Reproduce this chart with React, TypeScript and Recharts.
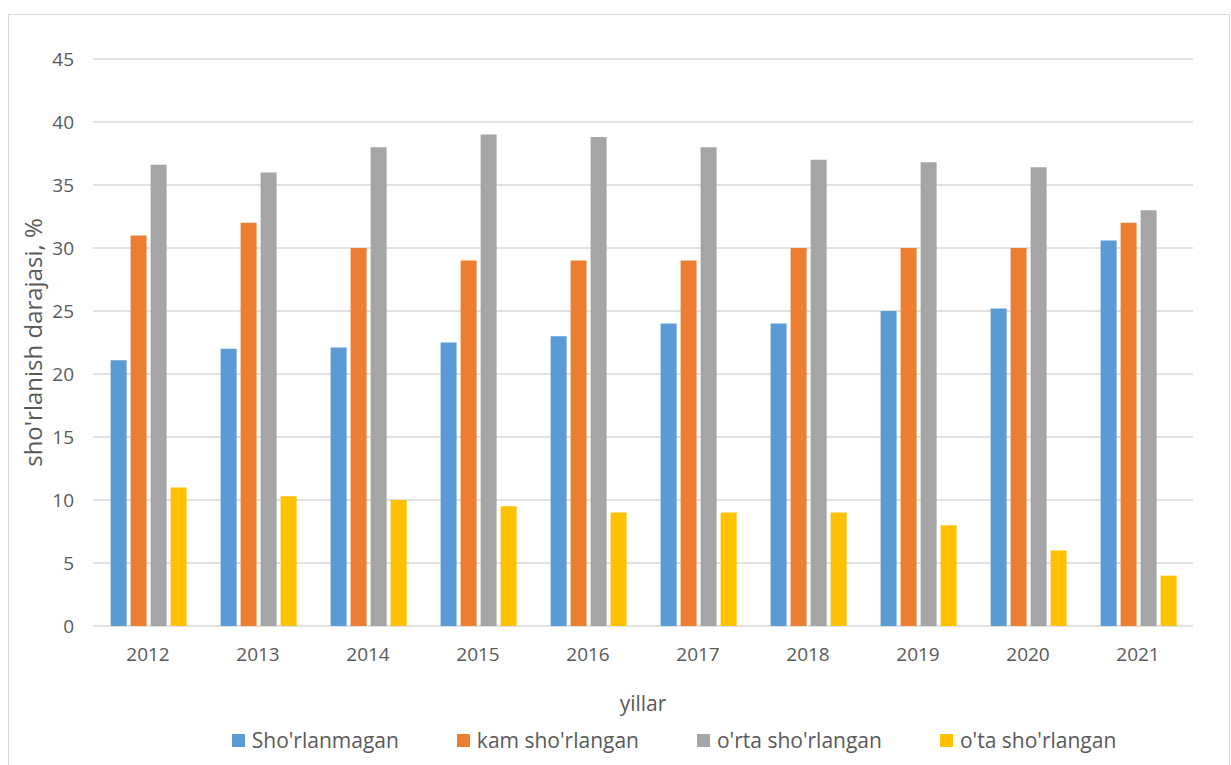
import React from 'react';
import { BarChart, Bar, XAxis, YAxis, CartesianGrid, Legend } from 'recharts';

const years = ['2012', '2013', '2014', '2015', '2016', '2017', '2018', '2019', '2020', '2021'];
const shorlanmagan = [21.1, 22.0, 22.1, 22.5, 23.0, 24.0, 24.0, 25.0, 25.2, 30.6];
const kamShorlangan = [31, 32, 30, 29, 29, 29, 30, 30, 30, 32];
const ortaShorlangan = [36.6, 36.0, 38.0, 39.0, 38.8, 38.0, 37.0, 36.8, 36.4, 33.0];
const otaShorlangan = [11.0, 10.3, 10.0, 9.5, 9.0, 9.0, 9.0, 8.0, 6.0, 4.0];
const yTicks = [0, 5, 10, 15, 20, 25, 30, 35, 40, 45];
const boundaryTicks = [0, 1, 2, 3, 4, 5, 6, 7, 8, 9, 10];

const series = [
  { key: 'a', name: "Sho'rlanmagan", color: '#5B9BD5', values: shorlanmagan },
  { key: 'b', name: "kam sho'rlangan", color: '#ED7D31', values: kamShorlangan },
  { key: 'c', name: "o'rta sho'rlangan", color: '#A5A5A5', values: ortaShorlangan },
  { key: 'd', name: "o'ta sho'rlangan", color: '#FFC000', values: otaShorlangan },
];

const data = years.map((year, i) => {
  const row: Record<string, string | number> = { year };
  series.forEach(s => { row[s.key] = s.values[i]; });
  return row;
});

const FONT = '"Open Sans", "Noto Sans", sans-serif';
const TEXT = '#595959';
const GRID = '#D9D9D9';

const LegendBox = () => (
  <div style={{ display: 'flex', justifyContent: 'center', paddingLeft: 146, fontFamily: FONT, fontSize: 21, color: TEXT }}>
    {series.map((s, i) => (
      <div key={s.key} style={{ display: 'flex', alignItems: 'center', marginLeft: i === 0 ? 0 : 58 }}>
        <span style={{ width: 13, height: 13, background: s.color, display: 'inline-block', marginRight: 7 }} />
        <span>{s.name}</span>
      </div>
    ))}
  </div>
);

export default function App() {
  return (
    <div style={{ position: 'absolute', left: 8, top: 14, width: 1220, height: 760, border: `1px solid ${GRID}`, background: '#fff' }}>
      <BarChart
        width={1220}
        height={750}
        data={data}
        margin={{ top: 44, right: 36, left: 0, bottom: 9 }}
        barGap={4}
        barCategoryGap="16%"
      >
        <CartesianGrid vertical={false} stroke={GRID} strokeWidth={1.5} />
        <XAxis
          xAxisId="grid"
          type="number"
          domain={[0, 10]}
          ticks={boundaryTicks}
          tick={false}
          tickSize={10}
          height={0}
          axisLine={{ stroke: GRID, strokeWidth: 1.5 }}
          tickLine={{ stroke: GRID, strokeWidth: 1.5 }}
        />
        <XAxis
          dataKey="year"
          height={100}
          axisLine={false}
          tickLine={false}
          tickSize={10}
          tickMargin={12}
          tick={{ fill: TEXT, fontSize: 19, fontFamily: FONT }}
          label={{ value: 'yillar', position: 'insideBottom', offset: 15, fill: TEXT, fontSize: 21, fontFamily: FONT }}
        />
        <YAxis
          width={84}
          domain={[0, 45]}
          ticks={yTicks}
          axisLine={false}
          tickLine={false}
          tickMargin={13}
          tick={{ fill: TEXT, fontSize: 19, fontFamily: FONT }}
          label={{ value: "sho'rlanish darajasi, %", angle: -90, position: 'center', dx: -18, fill: TEXT, fontSize: 24, fontFamily: FONT }}
        />
        <Legend verticalAlign="bottom" height={30} content={<LegendBox />} />
        {series.map(s => (
          <Bar key={s.key} dataKey={s.key} name={s.name} fill={s.color} isAnimationActive={false} />
        ))}
      </BarChart>
    </div>
  );
}
